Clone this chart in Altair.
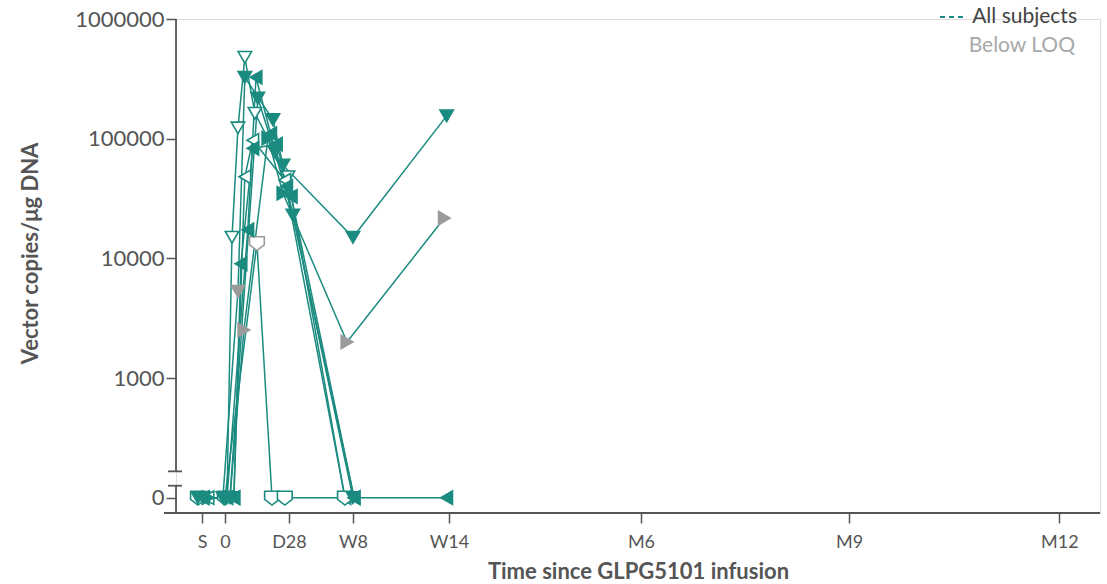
import altair as alt
import pandas as pd
import numpy as np

# ---------------- data ----------------
# x tick positions (days since infusion) and their labels
tick_days = [-10, 0, 28, 56, 98, 182, 273, 365]
tick_labels = ["S", "0", "D28", "W8", "W14", "M6", "M9", "M12"]

# per-subject series: day, value (0 = not detected), below-LOQ flag
s1_day = [-11.8, 0.9, 3.1, 5.7, 8.7, 13.1, 27.6, 52.5]
s1_val = [0, 0, 15000, 123000, 478000, 163000, 48000, 0]
s1_blq = [0, 0, 0, 0, 0, 0, 0, 0]

s2_day = [-11.8, -0.9, 5.7, 8.7, 21.0, 25.4, 56.0, 97.0]
s2_val = [0, 0, 5300, 326000, 144000, 60000, 15000, 155000]
s2_blq = [0, 0, 1, 0, 0, 0, 0, 0]

s3_day = [-9.6, 2.2, 14.4, 21.9, 29.7, 56.0]
s3_val = [0, 0, 218000, 77000, 23000, 0]
s3_blq = [0, 0, 0, 0, 0, 0]

s4_day = [-9.6, 0.9, 10.0, 13.6, 20.0, 27.0, 56.5, 97.0]
s4_val = [0, 0, 17300, 326000, 110000, 40000, 0, 0]
s4_blq = [0, 0, 0, 0, 0, 0, 0, 0]

s5_day = [-7.4, 3.9, 8.7, 12.2, 26.2, 52.5]
s5_val = [0, 0, 48000, 97000, 45000, 0]
s5_blq = [0, 0, 0, 0, 0, 0]

s6_day = [-7.4, 2.2, 8.3, 18.8, 25.4, 53.4, 96.0]
s6_val = [0, 0, 2520, 101000, 35000, 2000, 21700]
s6_blq = [0, 0, 1, 0, 0, 1, 1]

s7_day = [-11.8, 0.0, 14.0, 20.6, 26.2, 52.5]
s7_val = [0, 0, 13400, 0, 0, 0]
s7_blq = [0, 0, 1, 0, 0, 0]

s8_day = [-9.6, 3.9, 7.0, 12.2, 22.5, 29.0, 56.5]
s8_val = [0, 0, 9000, 83000, 90000, 33000, 0]
s8_blq = [0, 0, 0, 0, 0, 0, 0]

subjects = ["s1", "s2", "s3", "s4", "s5", "s6", "s7", "s8"]
series = {
    "s1": (s1_day, s1_val, s1_blq),
    "s2": (s2_day, s2_val, s2_blq),
    "s3": (s3_day, s3_val, s3_blq),
    "s4": (s4_day, s4_val, s4_blq),
    "s5": (s5_day, s5_val, s5_blq),
    "s6": (s6_day, s6_val, s6_blq),
    "s7": (s7_day, s7_val, s7_blq),
    "s8": (s8_day, s8_val, s8_blq),
}

# ---------------- styles ----------------
TEAL = "#1b8b80"
GREY = "#9b9b9b"
AXIS = "#555555"
FONT = "Lato"
PENTA = "M-1.1,-0.95L1.1,-0.95L1.1,0.25L0,1.1L-1.1,0.25Z"
subject_shapes = ["triangle-down", "triangle-down", "triangle-down", "triangle-left",
                  "triangle-left", "triangle-right", PENTA, "triangle-left"]
open_subjects = ["s1", "s5", "s7"]

ZERO_POS = 2.0          # where the "0" row sits on the log axis (broken axis)
Y_MIN, Y_MAX = 1.872, 6.0
X_MIN, X_MAX = -21.4, 382.8

rows = []
draw_order = open_subjects + [s for s in subjects if s not in open_subjects]
for s in draw_order:
    d, v, b = series[s]
    for i in range(len(d)):
        lv = np.log10(v[i]) if v[i] > 0 else ZERO_POS
        kind = "open" if s in open_subjects else ("blq" if b[i] else "filled")
        rows.append({"subject": s, "order": i, "day": d[i], "value": v[i], "logv": lv,
                     "fillkind": kind, "strokekind": "blq" if b[i] else "ok"})
df = pd.DataFrame(rows)

xscale = alt.Scale(domain=[X_MIN, X_MAX], nice=False, zero=False)
yscale = alt.Scale(domain=[Y_MIN, Y_MAX], nice=False, zero=False)

label_map = "{" + ",".join(f"'{d}':'{l}'" for d, l in zip(tick_days, tick_labels)) + "}"

x_enc = alt.X("day:Q", scale=xscale,
              axis=alt.Axis(values=tick_days, labelExpr=f"{label_map}[datum.value]",
                            title="Time since GLPG5101 infusion", domain=False, grid=False,
                            tickSize=10, tickColor=AXIS, tickWidth=1.5, labelColor=AXIS,
                            labelFont=FONT, labelFontSize=18, labelPadding=10,
                            titleFont=FONT, titleFontSize=22, titleFontWeight="bold",
                            titleColor=AXIS, titlePadding=10, labelFlush=False))
y_enc = alt.Y("logv:Q", scale=yscale,
              axis=alt.Axis(values=[2, 3, 4, 5, 6],
                            labelExpr="datum.value == 2 ? '0' : format(pow(10, datum.value), 'd')",
                            title="Vector copies/\u03bcg DNA", domain=False, grid=False,
                            tickSize=10, tickColor=AXIS, tickWidth=1.5, labelColor=AXIS,
                            labelFont=FONT, labelFontSize=22, labelPadding=2,
                            titleFont=FONT, titleFontSize=22, titleFontWeight="bold",
                            titleColor=AXIS, titlePadding=32, titleY=234, labelFlush=False))

base = alt.Chart(df)

lines = base.mark_line(color=TEAL, strokeWidth=1.5).encode(
    x=x_enc, y=y_enc, detail="subject:N", order="order:Q")

points = base.mark_point(size=180, strokeWidth=1.6, opacity=1, filled=False).encode(
    x=alt.X("day:Q", scale=xscale),
    y=alt.Y("logv:Q", scale=yscale),
    shape=alt.Shape("subject:N", scale=alt.Scale(domain=subjects, range=subject_shapes), legend=None),
    fill=alt.Fill("fillkind:N", scale=alt.Scale(domain=["filled", "open", "blq"],
                                                 range=[TEAL, "white", GREY]), legend=None),
    stroke=alt.Stroke("strokekind:N", scale=alt.Scale(domain=["ok", "blq"], range=[TEAL, GREY]),
                      legend=None),
)

# broken y axis: two segments and break ticks
break_df = pd.DataFrame({"y1": [Y_MAX, 2.1], "y2": [2.22, Y_MIN]})
yaxis_segs = alt.Chart(break_df).mark_rule(color=AXIS, strokeWidth=1.8).encode(
    x=alt.value(0), y=alt.Y("y1:Q", scale=yscale), y2="y2:Q")
break_ticks_df = pd.DataFrame({"yb": [2.22, 2.1]})
break_ticks = alt.Chart(break_ticks_df).mark_rule(color=AXIS, strokeWidth=1.8).encode(
    x=alt.value(-8), x2=alt.value(6), y=alt.Y("yb:Q", scale=yscale))
xaxis_line = alt.Chart(pd.DataFrame({"yb": [Y_MIN]})).mark_rule(color=AXIS, strokeWidth=1.8).encode(
    x=alt.value(-12), x2=alt.value(924), y=alt.Y("yb:Q", scale=yscale))

# legend
leg_line = alt.Chart(pd.DataFrame({"a": [1]})).mark_rule(
    color=TEAL, strokeWidth=2.2, strokeDash=[5, 4]).encode(
    x=alt.value(764), x2=alt.value(789), y=alt.value(-2))
leg_t1 = alt.Chart(pd.DataFrame({"t": ["All subjects"]})).mark_text(
    align="right", baseline="middle", font=FONT, fontSize=21, color="#444444").encode(
    x=alt.value(901), y=alt.value(-2), text="t:N")
leg_t2 = alt.Chart(pd.DataFrame({"t": ["Below LOQ"]})).mark_text(
    align="right", baseline="middle", font=FONT, fontSize=21, color="#a8a8a8").encode(
    x=alt.value(899), y=alt.value(27), text="t:N")

chart = alt.layer(lines, points, yaxis_segs, break_ticks, xaxis_line, leg_line, leg_t1, leg_t2).properties(
    width=924, height=494,
    autosize=alt.AutoSizeParams(type="none"),
    padding={"left": 176, "top": 19, "right": 7, "bottom": 71},
).configure_view(stroke=None).configure(background="white")

chart.save("out.html", embed_options={"renderer": "svg", "actions": False})
